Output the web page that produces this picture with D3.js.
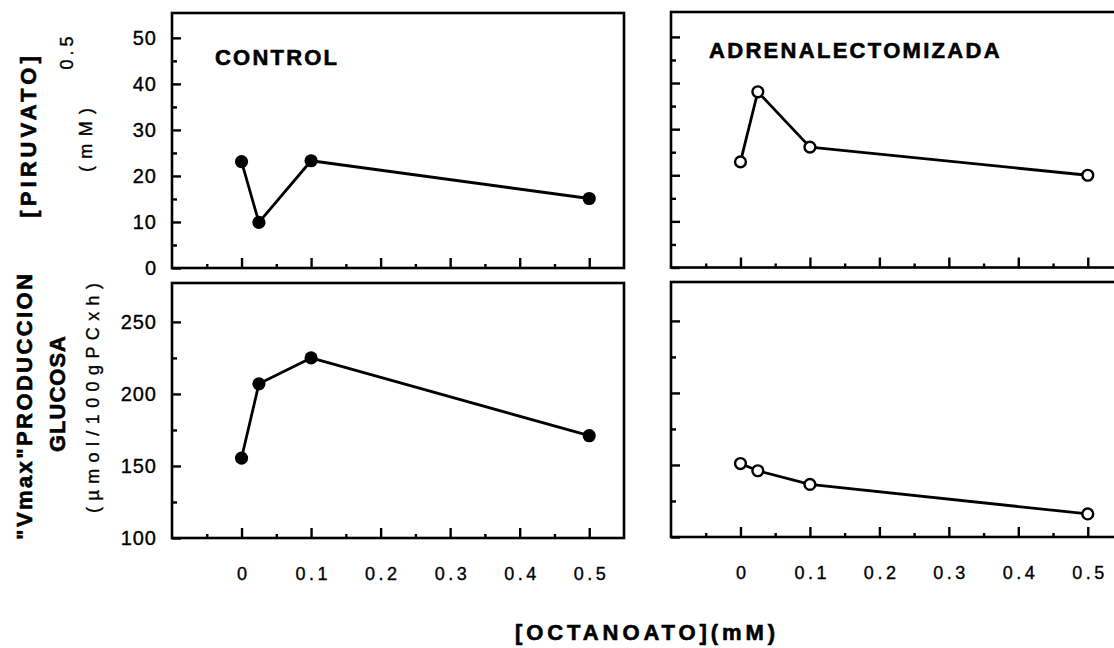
<!DOCTYPE html>
<html>
<head>
<meta charset="utf-8">
<script src="https://cdn.jsdelivr.net/npm/d3@7"></script>
<style>
  html, body { margin: 0; padding: 0; background: #fff; }
  svg text { font-family: "Liberation Sans", Arial, Helvetica, sans-serif; fill: #000; stroke: #000; stroke-width: 0.35px; }
  svg text.heavy { stroke-width: 0.6px; }
</style>
</head>
<body>
<svg id="chart" width="1114" height="648"></svg>
<script>
// Octanoate concentrations (mM)
const octanoato = [0, 0.025, 0.1, 0.5];

// Pyruvate concentration giving 0.5 Vmax (mM)
const piruvatoControl = [23.1, 9.9, 23.3, 15.1];
const piruvatoAdrenal = [22.9, 38.1, 26.1, 20.0];

// "Vmax" glucose production (µmol/100g PC x h)
const glucosaControl = [155.5, 207, 225, 171];
const glucosaAdrenal = [151, 146, 136.5, 116];

// Axis ticks
const xMajorTicks = [0, 0.1, 0.2, 0.3, 0.4, 0.5];
const xMinorTicks = [-0.05, 0.05, 0.15, 0.25, 0.35, 0.45];
const xTickLabels = ["0", "0.1", "0.2", "0.3", "0.4", "0.5"];
const piruvatoMajorTicks = [0, 10, 20, 30, 40, 50];
const piruvatoMinorTicks = [5, 15, 25, 35, 45];
const glucosaMajorTicks = [100, 150, 200, 250];
const glucosaMinorTicks = [125, 175, 225];

const svg = d3.select("#chart");

function drawPanel(cfg) {
  const x = d3.scaleLinear().domain([-0.1, 0.55]).range([cfg.left, cfg.right]);
  const y = d3.scaleLinear().domain(cfg.yDomain).range([cfg.bottom, cfg.top]);
  const g = svg.append("g");

  // frame
  g.append("rect")
    .attr("x", cfg.left).attr("y", cfg.top)
    .attr("width", cfg.right - cfg.left).attr("height", cfg.bottom - cfg.top)
    .attr("fill", "none").attr("stroke", "#000").attr("stroke-width", 2.6);

  // y axis: ticks pointing inward
  const yMajor = d3.axisLeft(y).tickValues(cfg.yMajor)
    .tickSizeInner(-9).tickSizeOuter(0).tickPadding(15)
    .tickFormat(cfg.yLabels ? d3.format("d") : () => "");
  const ya = g.append("g").attr("transform", `translate(${cfg.left},0)`).call(yMajor);
  const yMinor = d3.axisLeft(y).tickValues(cfg.yMinor)
    .tickSizeInner(-5).tickSizeOuter(0).tickFormat(() => "");
  const yb = g.append("g").attr("transform", `translate(${cfg.left},0)`).call(yMinor);

  // x axis: ticks pointing up
  const xMajor = d3.axisBottom(x).tickValues(xMajorTicks)
    .tickSizeInner(-10).tickSizeOuter(0).tickPadding(29)
    .tickFormat((d, i) => cfg.xLabels ? xTickLabels[i] : "");
  const xa = g.append("g").attr("transform", `translate(0,${cfg.bottom})`).call(xMajor);
  const xMinor = d3.axisBottom(x).tickValues(xMinorTicks)
    .tickSizeInner(-4).tickSizeOuter(0).tickFormat(() => "");
  const xb = g.append("g").attr("transform", `translate(0,${cfg.bottom})`).call(xMinor);

  [ya, yb, xa, xb].forEach(a => {
    a.select(".domain").remove();
    a.selectAll(".tick line").attr("stroke", "#000").attr("stroke-width", 2.4);
  });
  ya.selectAll(".tick text")
    .style("font-size", "20px").style("letter-spacing", "1px");
  xa.selectAll(".tick text")
    .style("font-size", "18px").style("letter-spacing", "3.5px").attr("dx", "1.75px");

  // series
  const pts = octanoato.map((v, i) => [v, cfg.values[i]]);
  const line = d3.line().x(d => x(d[0])).y(d => y(d[1]));
  g.append("path").datum(pts).attr("d", line)
    .attr("fill", "none").attr("stroke", "#000").attr("stroke-width", 2.8)
    .attr("stroke-linejoin", "round");
  g.selectAll("circle.pt").data(pts).join("circle")
    .attr("class", "pt")
    .attr("cx", d => x(d[0])).attr("cy", d => y(d[1]))
    .attr("r", cfg.filled ? 6.6 : 5.4)
    .attr("fill", cfg.filled ? "#000" : "#fff")
    .attr("stroke", "#000").attr("stroke-width", cfg.filled ? 0 : 2.4);

  if (cfg.title) {
    g.append("text").attr("class", "heavy")
      .attr("x", cfg.title.x).attr("y", cfg.title.y)
      .style("font-size", "22px").style("font-weight", "bold")
      .style("letter-spacing", cfg.title.spacing + "px")
      .text(cfg.title.text);
  }
}

drawPanel({ left: 172, right: 624, top: 13, bottom: 268, yDomain: [0, 55.4],
  yMajor: piruvatoMajorTicks, yMinor: piruvatoMinorTicks, yLabels: true, xLabels: false,
  values: piruvatoControl, filled: true,
  title: { text: "CONTROL", x: 215, y: 65, spacing: 2.2 } });
drawPanel({ left: 172, right: 624, top: 283, bottom: 538, yDomain: [100, 277],
  yMajor: glucosaMajorTicks, yMinor: glucosaMinorTicks, yLabels: true, xLabels: true,
  values: glucosaControl, filled: true });
drawPanel({ left: 671, right: 1122.5, top: 12, bottom: 267.5, yDomain: [0, 55.4],
  yMajor: piruvatoMajorTicks, yMinor: piruvatoMinorTicks, yLabels: false, xLabels: false,
  values: piruvatoAdrenal, filled: false,
  title: { text: "ADRENALECTOMIZADA", x: 709, y: 58, spacing: 2.3 } });
drawPanel({ left: 671, right: 1122.5, top: 282, bottom: 537, yDomain: [100, 277],
  yMajor: glucosaMajorTicks, yMinor: glucosaMinorTicks, yLabels: false, xLabels: true,
  values: glucosaAdrenal, filled: false });

// rotated axis titles
function vLabel(text, cx, cy, size, weight, spacing) {
  svg.append("text")
    .attr("class", weight === "bold" ? "heavy" : null)
    .attr("transform", `translate(${cx},${cy}) rotate(-90)`)
    .attr("text-anchor", "middle").attr("dy", "0.36em").attr("dx", spacing / 2)
    .style("font-size", size + "px").style("font-weight", weight)
    .style("letter-spacing", spacing + "px")
    .text(text);
}
vLabel("[PIRUVATO]", 28, 137, 22, "bold", 4.1);
vLabel("0.5", 67, 53, 18, "normal", 4);
vLabel("(mM)", 86, 140, 18, "normal", 7.3);
vLabel("\"Vmax\"PRODUCCION", 24, 407, 22, "bold", 2.4);
vLabel("GLUCOSA", 57, 394, 22, "bold", 1);
vLabel("(µmol/100gPCxh)", 93, 398, 18, "normal", 6.4);

// shared x-axis title
svg.append("text").attr("class", "heavy")
  .attr("x", 645).attr("y", 640).attr("text-anchor", "middle").attr("dx", 2)
  .style("font-size", "22px").style("font-weight", "bold").style("letter-spacing", "3.9px")
  .text("[OCTANOATO](mM)");
</script>
</body>
</html>
